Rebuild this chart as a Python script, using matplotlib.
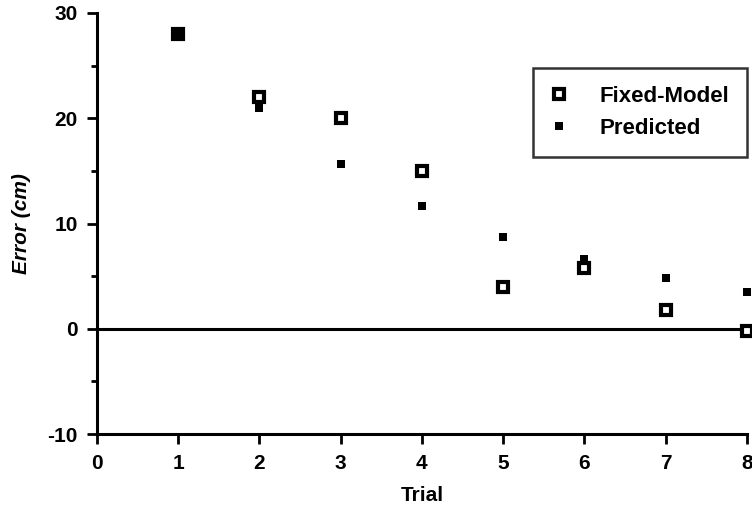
import matplotlib
matplotlib.use('Agg')
from matplotlib import pyplot as plt
from matplotlib.ticker import MultipleLocator

trials = [1, 2, 3, 4, 5, 6, 7, 8]
fixed_model = [28, 22, 20, 15, 4, 5.8, 1.8, -0.2]
predicted = [28, 21, 15.7, 11.7, 8.7, 6.6, 4.8, 3.5]

plt.rcParams['font.family'] = ['Liberation Sans', 'DejaVu Sans']
plt.rcParams['axes.unicode_minus'] = False
plt.rcParams['font.weight'] = 'bold'

fig = plt.figure(figsize=(7.52, 5.18), dpi=100)
ax = fig.add_axes([0.129, 0.162, 0.864, 0.813])

ax.axhline(0, color='black', lw=2.2, zorder=1)
ax.plot(trials, fixed_model, 's', ms=7, mfc='white', mec='black', mew=3,
        label='Fixed-Model', zorder=3, clip_on=False)
ax.plot(trials, predicted, 's', ms=6, mfc='black', mec='black', mew=0,
        label='Predicted', zorder=4, clip_on=False)

ax.set_xlim(0, 8)
ax.set_ylim(-10, 30)
ax.set_xticks(range(0, 9))
ax.set_yticks([-10, 0, 10, 20, 30])
ax.yaxis.set_minor_locator(MultipleLocator(5))

for s in ['top', 'right']:
    ax.spines[s].set_visible(False)
for s in ['left', 'bottom']:
    ax.spines[s].set_linewidth(2.2)

ax.tick_params(axis='both', which='major', direction='out', length=7, width=2,
               labelsize=15, pad=7)
ax.tick_params(axis='y', which='minor', direction='out', length=4, width=2)

ax.set_xlabel('Trial', fontsize=15, fontweight='bold', labelpad=10)
ax.set_ylabel('Error (cm)', fontsize=15, style='italic', fontweight='bold',
              labelpad=12)

leg = ax.legend(loc='upper right', bbox_to_anchor=(1.0, 0.869),
                prop={'size': 16, 'weight': 'bold'},
                frameon=True, fancybox=False, edgecolor='black',
                borderpad=0.8, handletextpad=1.4, labelspacing=0.5,
                handlelength=0.8, borderaxespad=0.0)
leg.get_frame().set_linewidth(1.8)

plt.savefig('out.png', dpi=100)
plt.close()
